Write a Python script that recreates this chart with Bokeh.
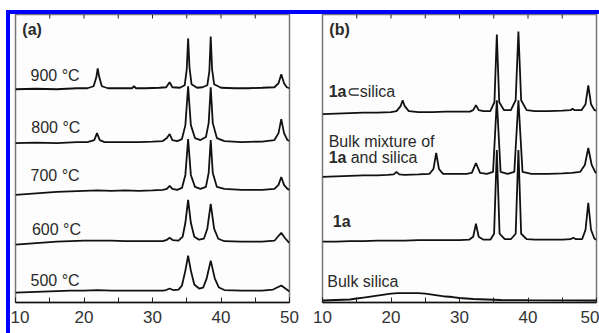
from bokeh.plotting import figure
from bokeh.models import Range1d, FixedTicker, Label, Spacer
from bokeh.layouts import row, column
from bokeh.embed import file_html
from bokeh.resources import INLINE

# ---------------- data ----------------
# panel (a): calcination temperature series, intensity above own baseline
x_500 = [10,12,14,16,18,20,22,24,26,28,30,31.5,32.0,32.5,33.0,33.8,34.3,34.8,35.2,35.6,36.1,36.8,37.4,37.9,38.5,39.1,39.7,40.5,43,46,47.6,48.2,48.8,49.4,50]
y_500 = [0,0.5,1,1.5,2,2,2.5,2,2,2,2,2,2.5,4,2.5,3,7,22,37,22,8,4,5,14,32,14,5,2.5,2,2,3,5,7,4,1]
x_600 = [10,12,14,16,18,20,22,24,26,28,30,31.5,32.0,32.5,33.0,33.8,34.4,34.8,35.2,35.6,36.1,36.8,37.5,38.0,38.5,39.0,39.6,40.5,43,46,47.8,48.3,48.8,49.3,49.8,50]
y_600 = [0,1,2,3,3.5,4,4,4,3.5,3.5,3.5,3.5,4.5,7,4.5,4,8,22,45,22,8,5,6,16,41,16,6,3.5,3,3,4,8,12,7,3,2]
x_700 = [10,12,14,16,18,20,22,24,26,28,30,31.5,32.1,32.5,32.9,33.6,34.3,34.8,35.2,35.6,36.2,37,37.8,38.2,38.5,38.8,39.4,40.5,43,46,47.8,48.4,48.8,49.2,49.7,50]
y_700 = [0,1,2,3,3.5,4,4.5,4,4.5,4,4.5,5,6,9,6,5,7,20,56,20,8,6,8,22,55,22,8,6,5,5,6,10,18,10,6,5]
x_800 = [10,13,16,19,20.5,21.5,21.9,22.3,23,25,28,30,31.5,32.1,32.5,32.9,33.6,34.3,34.8,35.2,35.6,36.2,37,37.8,38.2,38.5,38.8,39.4,40.5,43,46,47.8,48.4,48.8,49.2,49.7,50]
y_800 = [0,0.5,0,1,1,3,10,3,1,1,1,1.5,2,5,9,3,2,4,18,57,18,5,3,6,20,56,20,5,2,1,1.5,3,10,24,10,3,2]
x_900 = [10,13,16,19,20.5,21.4,21.8,22.0,22.2,22.6,23.5,25,27,27.3,27.6,29,31,32.0,32.5,32.9,34.0,34.7,35.0,35.2,35.4,35.7,36.5,37.3,38.0,38.3,38.5,38.7,39.0,40,42,44,46,47.8,48.4,48.8,49.2,49.6,50]
y_900 = [0,0.5,0,1,1,3,12,21,13,3,1,1,1,3,1,1,1.5,2,7,2,1.5,4,20,51,22,5,1.5,2,4,18,53,20,5,1.5,1,1,1.5,2,6,15,6,2,1]
a_names = ["500 °C", "600 °C", "700 °C", "800 °C", "900 °C"]
a_offsets = [9, 57, 107, 159, 213]

# panel (b)
x_silica = [10,12,14,15,16,17,18,19,20,21,22,23,24,25,26,27,28,29,30,32,34,36,40,45,50]
y_silica = [0,0.5,1,2,3,4,5,6,7,7.5,7.5,7.5,7.5,7,6,5,4,3.5,2.5,1.5,1,0.5,0.3,0.2,0]
x_1a = [10,12,14,16,18,20,22,24,26,28,30,31.4,32.0,32.4,32.8,33.5,34.5,35.05,35.45,35.85,36.6,37.5,38.2,38.6,39.0,39.8,41,43,45,46.2,46.6,47.0,47.9,48.4,48.8,49.2,49.7,50]
y_1a = [0,0,0.5,0.5,1,1,1,1.5,1.5,1.5,1.5,2,5,18,5,2,2,8,92,8,2.5,2.5,8,92,8,2.5,2,2,2,2.5,4,2.5,2.5,12,39,12,3,2]
x_mix = [10,12,14,16,18,19.5,20.4,20.8,21.2,22,24,25.6,26.2,26.6,27.0,27.6,29,31,31.8,32.4,33.0,34,34.9,35.45,36.0,37,38.0,38.6,39.2,40.5,43,45,46.4,47.6,48.3,48.8,49.3,49.8,50]
y_mix = [0,0.5,1,1.5,1.5,2,2.5,5,2.5,2,2.5,3,8,24,8,3,3,3,4,14,4,3,5,77,5,3,5,77,5,3,3,3.5,4,5,12,29,12,5,4]
x_incl = [10,12,14,16,18,20,20.8,21.4,21.7,22.0,22.6,24,26,28,30,31.5,32.0,32.4,32.8,33.5,34.5,35.1,35.45,35.8,36.5,37.5,38.2,38.6,39.0,39.8,41,43,45,46.2,46.5,46.8,47.8,48.4,48.8,49.2,49.7,50]
y_incl = [0,0.5,1,1.5,1.5,2,3,8,14,8,3,2,2,2.5,2.5,2.5,4,9,4,3,3,12,80,12,4,4,14,83,14,4,3,3,3.5,4,5.5,4,4,10,29,10,4,3.5]
b_offsets = [1, 60, 125, 188]

x_ticks = [10, 20, 30, 40, 50]
x_minor = [15, 25, 35, 45]
x_title = "2θ / °"

FONT = "Liberation Sans"
TXT = "#2a2a2a"
Y_TOP = 288


def make_fig(width, bl, br):
    p = figure(width=width, height=319, x_range=Range1d(10, 50), y_range=Range1d(-1, Y_TOP),
               output_backend="svg", toolbar_location=None, y_axis_location=None,
               min_border_left=bl, min_border_right=br, min_border_top=0, min_border_bottom=31,
               background_fill_color="#fdfdfd", border_fill_color="#ffffff",
               outline_line_color="#777777", outline_line_width=1.5)
    p.grid.visible = False
    ax = p.xaxis[0]
    ax.ticker = FixedTicker(ticks=x_ticks, minor_ticks=x_minor)
    ax.major_tick_in = 5
    ax.major_tick_out = 0
    ax.minor_tick_in = 5
    ax.minor_tick_out = 0
    ax.major_tick_line_color = "#222222"
    ax.minor_tick_line_color = "#222222"
    ax.axis_line_color = "#111111"
    ax.axis_line_width = 1.5
    ax.major_label_text_font = FONT
    ax.major_label_text_font_size = "17px"
    ax.major_label_text_color = "#333333"
    ax.major_label_standoff = 8
    # inward tick stubs along the top edge
    tk = x_ticks[1:-1] + x_minor
    p.segment(x0=tk, x1=tk, y0=[Y_TOP] * len(tk), y1=[Y_TOP - 4] * len(tk),
              line_color="#222222", line_width=1)
    # axis title: anchored on the frame bottom, pushed down in screen pixels
    p.add_layout(Label(x=33.0, y=0, y_offset=-18, text=x_title, text_font=FONT,
                       text_font_size="13px", text_color="#333333",
                       text_baseline="top", text_align="left"))
    return p


def lab(p, x, y, text, bold=False, dx=0):
    p.add_layout(Label(x=x, y=y, x_offset=dx, text=text, text_font=FONT, text_font_size="16px",
                       text_font_style="bold" if bold else "normal", text_color=TXT,
                       text_baseline="alphabetic", text_align="left"))


# ---------------- panel (a) ----------------
p1 = make_fig(295, 5, 16)
series_a = [(x_500, y_500), (x_600, y_600), (x_700, y_700), (x_800, y_800), (x_900, y_900)]
for (xs, ys), off in zip(series_a, a_offsets):
    p1.line(xs, [v + off for v in ys], line_color="#111111", line_width=1.8)
lab_y_a = [21, 72, 126, 175, 227]
lab_x_a = [12.2, 12.4, 12.2, 12.3, 12.2]
for name, lx, ly in zip(a_names, lab_x_a, lab_y_a):
    lab(p1, lx, ly, name)
lab(p1, 11.0, 273, "(a)", bold=True)

# ---------------- panel (b) ----------------
p2 = make_fig(294, 17, 3)
series_b = [(x_silica, y_silica), (x_1a, y_1a), (x_mix, y_mix), (x_incl, y_incl)]
for (xs, ys), off in zip(series_b, b_offsets):
    p2.line(xs, [v + off for v in ys], line_color="#111111", line_width=1.8)
lab(p2, 11.0, 273, "(b)", bold=True)
lab(p2, 10.9, 211, "1a", bold=True)
lab(p2, 10.9, 211, "\u2282silica", dx=18)
lab(p2, 10.9, 161, "Bulk mixture of")
lab(p2, 10.9, 145, "1a", bold=True)
lab(p2, 10.9, 145, "and silica", dx=22)
lab(p2, 11.5, 80, "1a", bold=True)
lab(p2, 10.7, 20, "Bulk silica")

BLUE = "#0000ff"
top_pad = Spacer(width=599, height=10)
left_pad = Spacer(width=6, height=323)
top_bar = Spacer(width=593, height=4, styles={"background-color": BLUE})
left_bar = Spacer(width=4, height=319, styles={"background-color": BLUE})
layout = column(top_pad,
                row(left_pad, column(top_bar, row(left_bar, p1, p2, spacing=0), spacing=0), spacing=0),
                spacing=0)

open("out.html", "w").write(file_html(layout, INLINE))
